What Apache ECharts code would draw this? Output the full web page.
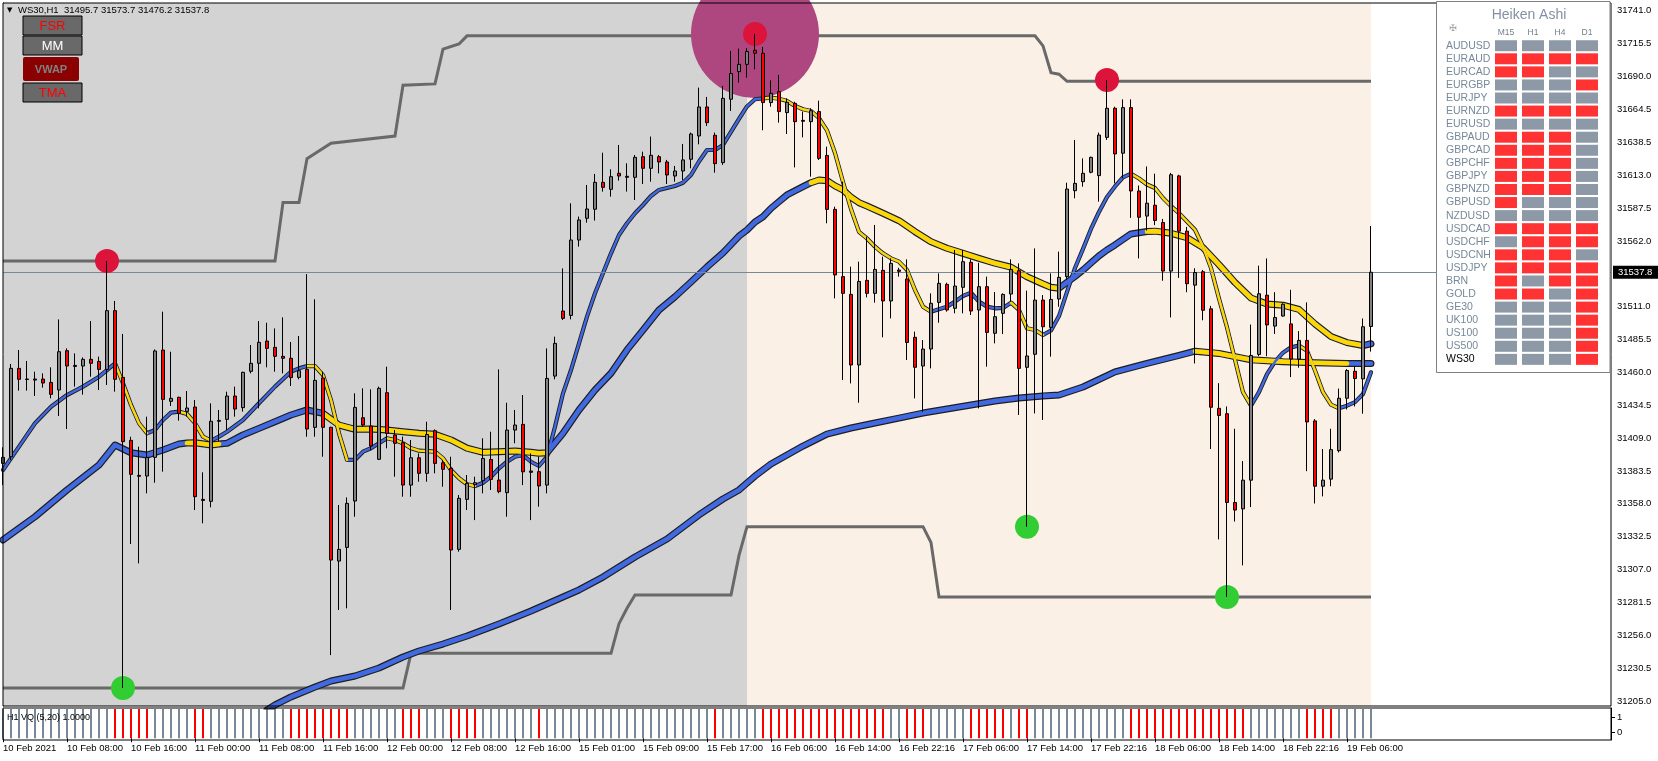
<!DOCTYPE html>
<html><head><meta charset="utf-8">
<script src="https://cdn.jsdelivr.net/npm/echarts@6/dist/echarts.min.js"></script>
<style>html,body{margin:0;padding:0;background:#fff}#c{width:1658px;height:761px}</style>
</head><body><div id="c"></div>
<script>
// ---------- data ----------
const symbolName = 'WS30,H1';
const tickLabels = ['10 Feb 2021','10 Feb 08:00','10 Feb 16:00','11 Feb 00:00','11 Feb 08:00','11 Feb 16:00','12 Feb 00:00','12 Feb 08:00','12 Feb 16:00','15 Feb 01:00','15 Feb 09:00','15 Feb 17:00','16 Feb 06:00','16 Feb 14:00','16 Feb 22:16','17 Feb 06:00','17 Feb 14:00','17 Feb 22:16','18 Feb 06:00','18 Feb 14:00','18 Feb 22:16','19 Feb 06:00'];
const barsPerLabel = 8;
const priceTicks = [31205.0,31230.5,31256.0,31281.5,31307.0,31332.5,31358.0,31383.5,31409.0,31434.5,31460.0,31485.5,31511.0,31562.0,31587.5,31613.0,31638.5,31664.5,31690.0,31715.5,31741.0];
const yMin = 31201.1, yMax = 31746.8;
const xSlots = 201;
const sessionSplit = 93;

const opens = [31389.4,31394.6,31463.2,31454.9,31454.9,31454.9,31452.3,31446.4,31476.9,31465.5,
31465.0,31470.2,31468.6,31462.4,31508.0,31456.2,31407.3,31380.1,31379.6,31394.1,
31477.4,31437.6,31440.7,31429.8,31433.2,31361.5,31360.0,31422.1,31423.6,31441.7,
31432.7,31460.9,31467.1,31484.4,31479.5,31472.5,31471.0,31456.2,31462.4,31417.4,
31455.7,31417.4,31313.6,31324.2,31360.2,31424.9,31418.4,31392.6,31444.3,31411.4,
31405.5,31372.6,31393.8,31381.7,31414.8,31389.9,31385.6,31322.7,31361.5,31372.9,
31376.0,31392.5,31376.5,31366.7,31415.3,31419.7,31383.5,31383.0,31372.6,31457.2,
31507.7,31504.3,31562.8,31579.7,31586.7,31607.6,31602.2,31614.6,31612.3,31611.5,
31627.5,31618.5,31627.5,31623.4,31612.5,31616.4,31625.5,31643.6,31666.1,31644.1,
31622.9,31672.1,31693.5,31699.2,31710.1,31707.8,31669.5,31678.0,31661.7,31668.9,
31655.7,31654.7,31662.5,31628.5,31586.6,31534.4,31520.6,31465.8,31531.5,31521.4,
31539.3,31515.5,31539.5,31532.6,31487.3,31465.0,31478.2,31514.4,31528.4,31509.8,
31526.1,31545.5,31508.5,31526.6,31490.4,31505.9,31520.9,31539.0,31464.0,31474.1,
31516.2,31495.0,31517.0,31534.4,31601.1,31608.1,31615.4,31612.8,31642.5,31665.1,
31630.2,31665.6,31600.9,31581.4,31589.8,31576.4,31538.7,31612.6,31569.7,31527.8,
31538.2,31509.4,31432.2,31428.0,31359.1,31354.1,31376.4,31474.0,31520.0,31496.0,
31503.8,31497.7,31470.4,31484.9,31422.4,31371.7,31377.2,31399.3,31440.0,31460.9,
31455.0,31495.7];
const highs = [31401.9,31466.6,31477.4,31468.9,31460.6,31459.3,31464.0,31501.2,31478.7,31474.8,
31471.7,31499.9,31472.3,31546.5,31515.5,31489.9,31410.1,31402.4,31425.7,31477.9,
31507.2,31476.1,31441.2,31445.6,31438.6,31382.5,31436.0,31430.9,31445.1,31449.0,
31460.6,31481.3,31499.9,31498.6,31494.2,31502.8,31483.6,31488.3,31536.4,31516.8,
31460.6,31417.9,31357.1,31363.0,31443.8,31447.7,31446.9,31449.0,31464.5,31415.3,
31410.2,31407.6,31397.2,31421.8,31415.8,31392.0,31394.6,31364.9,31380.4,31379.1,
31408.9,31414.0,31462.4,31436.5,31430.9,31442.5,31397.2,31394.6,31478.7,31487.8,
31540.8,31591.3,31581.0,31605.5,31614.1,31630.6,31617.7,31636.6,31622.4,31628.8,
31631.4,31643.1,31628.8,31625.0,31620.3,31637.4,31646.2,31681.1,31673.9,31646.2,
31682.4,31709.6,31711.4,31711.7,31722.8,31712.7,31686.8,31691.0,31672.8,31670.2,
31662.5,31665.1,31671.0,31635.3,31588.7,31608.1,31542.1,31546.0,31565.4,31574.5,
31549.9,31548.6,31541.3,31547.8,31491.7,31485.2,31521.4,31536.9,31529.7,31555.1,
31555.1,31547.8,31545.2,31534.4,31522.5,31521.4,31547.8,31544.7,31523.5,31556.3,
31520.1,31536.9,31553.8,31607.3,31640.5,31626.2,31627.5,31646.2,31687.0,31666.3,
31672.0,31672.0,31605.1,31619.9,31614.3,31579.2,31614.9,31613.5,31573.0,31540.9,
31539.6,31511.7,31451.7,31433.6,31416.3,31391.2,31497.2,31542.9,31548.5,31522.3,
31513.6,31524.2,31492.1,31514.4,31423.8,31400.6,31416.3,31447.5,31462.6,31464.8,
31501.9,31573.7];
const lows = [31372.6,31392.0,31445.9,31445.9,31441.7,31448.2,31439.9,31426.2,31416.1,31449.0,
31442.8,31456.7,31446.4,31450.3,31445.1,31215.1,31326.8,31311.8,31366.2,31374.4,
31383.0,31434.0,31422.6,31425.7,31353.2,31342.9,31355.3,31406.3,31415.3,31425.7,
31429.6,31459.3,31432.1,31464.0,31460.6,31459.3,31449.5,31454.7,31410.1,31410.1,
31394.6,31240.6,31275.6,31276.9,31348.0,31417.9,31399.8,31392.0,31401.1,31379.1,
31363.6,31363.6,31375.2,31375.2,31381.7,31371.3,31275.6,31320.9,31353.2,31345.4,
31366.2,31368.8,31366.2,31348.0,31405.0,31372.6,31345.4,31355.8,31366.2,31454.7,
31500.7,31501.2,31557.7,31576.3,31577.9,31600.4,31596.5,31608.9,31600.4,31593.9,
31606.3,31608.1,31614.6,31606.3,31608.1,31609.4,31618.5,31637.1,31651.3,31615.1,
31621.1,31663.0,31685.0,31688.9,31695.3,31648.0,31666.3,31653.9,31645.1,31619.2,
31642.5,31612.0,31624.9,31575.8,31517.5,31454.1,31451.5,31436.5,31518.3,31514.2,
31487.3,31502.0,31534.4,31469.7,31439.9,31429.5,31463.2,31498.6,31507.2,31505.9,
31505.9,31504.6,31432.1,31464.5,31482.6,31489.8,31514.9,31427.0,31340.3,31428.2,
31423.1,31472.3,31511.0,31531.8,31595.2,31604.2,31614.6,31592.6,31640.5,31606.8,
31610.7,31580.0,31548.5,31570.2,31574.4,31531.2,31502.7,31533.4,31522.3,31467.0,
31500.5,31400.6,31330.4,31285.7,31344.3,31310.3,31355.5,31472.6,31472.6,31489.9,
31503.3,31456.4,31463.7,31383.4,31358.3,31363.8,31371.7,31397.9,31431.3,31433.6,
31428.0,31476.2];
const closes = [31394.1,31463.2,31454.7,31454.6,31454.1,31451.8,31443.0,31476.1,31465.0,31464.7,
31470.2,31467.1,31462.4,31508.0,31454.7,31406.3,31380.9,31379.4,31394.1,31476.7,
31439.1,31439.9,31428.3,31432.4,31363.6,31360.7,31422.1,31422.8,31441.7,31431.6,
31460.1,31467.1,31483.4,31478.7,31472.5,31471.0,31456.0,31461.4,31416.1,31453.9,
31417.4,31314.4,31322.7,31358.4,31432.9,31419.2,31402.9,31447.7,31412.7,31405.0,
31372.6,31393.8,31381.7,31411.9,31389.4,31384.8,31322.2,31362.3,31373.9,31374.4,
31393.3,31377.0,31367.5,31415.3,31419.2,31382.9,31382.5,31371.9,31455.4,31482.6,
31502.0,31562.8,31578.4,31586.9,31607.6,31603.7,31612.0,31612.5,31611.5,31627.0,
31618.5,31628.6,31623.4,31613.3,31616.4,31625.0,31645.1,31666.1,31653.9,31622.1,
31672.8,31692.0,31699.2,31709.1,31707.8,31669.5,31676.7,31662.5,31669.7,31654.7,
31655.0,31663.2,31626.2,31586.6,31535.7,31521.4,31465.8,31530.7,31521.4,31540.0,
31515.5,31544.7,31538.5,31483.3,31464.0,31478.2,31513.7,31529.2,31508.5,31527.1,
31546.0,31507.7,31526.6,31491.1,31503.3,31520.6,31540.0,31463.2,31472.8,31516.2,
31495.5,31516.7,31533.8,31602.4,31606.8,31614.6,31627.0,31644.3,31665.1,31629.6,
31665.6,31600.9,31580.5,31591.4,31578.0,31538.7,31613.5,31569.7,31528.9,31537.6,
31508.3,31433.0,31426.6,31359.1,31353.2,31376.4,31473.2,31521.1,31496.9,31502.7,
31513.0,31470.4,31484.9,31421.6,31371.7,31376.4,31400.1,31440.0,31461.5,31455.3,
31495.5,31537.8];

const maFast = [[0,31384.3],[2,31402.4],[4,31420.6],[6,31433.4],[8,31442.5],[10,31449.0],[12,31456.7],[13,31461.9],[14,31467.1],[15,31451.6],[16,31434.8],[17,31420.6],[18,31412.8],[19,31415.3],[20,31423.1],[21,31428.8],[22,31429.6],[23,31427.8],[24,31420.6],[25,31410.2],[26,31407.1],[27,31410.2],[28,31414.0],[30,31423.1],[32,31436.1],[34,31449.0],[36,31460.6],[37,31463.2],[38,31465.0],[39,31465.0],[40,31458.0],[41,31438.6],[42,31412.8],[43,31392.1],[44,31392.1],[45,31398.5],[46,31401.2],[47,31405.0],[48,31408.9],[49,31407.6],[50,31405.0],[51,31401.2],[52,31399.3],[54,31398.5],[55,31393.4],[56,31384.3],[57,31377.9],[58,31373.2],[59,31371.9],[60,31374.4],[61,31379.1],[62,31385.6],[63,31390.7],[64,31394.6],[65,31395.9],[66,31390.7],[67,31387.4],[68,31394.6],[69,31417.9],[70,31443.8],[71,31461.9],[72,31482.6],[73,31503.3],[74,31521.5],[75,31537.0],[76,31552.5],[77,31566.7],[78,31575.8],[79,31583.6],[80,31590.0],[81,31597.0],[82,31601.7],[84,31604.8],[85,31607.3],[86,31613.3],[87,31623.8],[88,31632.7],[89,31632.7],[90,31636.6],[91,31646.7],[92,31656.8],[93,31666.5],[94,31672.1],[95,31672.8],[96,31673.3],[97,31672.5],[98,31670.8],[99,31666.9],[100,31664.3],[101,31663.0],[102,31657.5],[103,31647.9],[104,31630.4],[105,31607.9],[106,31586.9],[107,31569.1],[108,31564.0],[109,31557.6],[110,31552.5],[111,31548.6],[112,31546.0],[113,31539.6],[114,31524.0],[115,31511.1],[116,31507.2],[117,31509.1],[118,31511.1],[119,31515.0],[120,31519.4],[121,31521.9],[122,31515.0],[123,31511.1],[124,31509.8],[125,31510.1],[126,31514.2],[127,31508.5],[128,31494.3],[129,31493.0],[130,31489.1],[131,31492.6],[132,31503.8],[133,31522.5],[134,31541.1],[135,31555.9],[136,31571.4],[137,31584.6],[138,31596.2],[139,31604.4],[140,31611.5],[141,31614.3],[142,31610.6],[143,31605.9],[144,31603.2],[145,31595.4],[146,31589.2],[147,31583.7],[148,31577.2],[149,31570.8],[150,31557.7],[151,31541.0],[152,31517.3],[153,31495.0],[154,31469.9],[155,31444.7],[156,31434.2],[157,31444.7],[158,31458.7],[159,31468.4],[160,31475.4],[161,31479.5],[162,31480.9],[163,31476.8],[164,31461.5],[165,31444.7],[166,31435.0],[167,31432.2],[168,31434.2],[169,31437.0],[170,31443.3],[171,31460.1]];
const fastYellow = [[14,18],[22,26],[38,43],[48,59],[95,116],[126,130],[141,156],[162,167]];

const maMid = [[0,31330.0],[4,31348.0],[8,31368.8],[12,31388.2],[14,31403.7],[16,31397.7],[18,31395.9],[20,31399.8],[22,31404.5],[23,31405.2],[24,31405.5],[26,31403.7],[27,31404.5],[28,31405.0],[30,31411.5],[32,31416.6],[34,31421.8],[36,31427.0],[38,31430.9],[40,31428.3],[42,31419.2],[44,31415.9],[46,31416.1],[48,31415.4],[50,31414.0],[52,31412.8],[54,31412.0],[56,31407.6],[58,31401.2],[60,31398.0],[62,31398.5],[64,31399.1],[66,31398.0],[67,31397.3],[68,31397.7],[70,31412.8],[72,31430.9],[74,31446.4],[76,31459.4],[78,31477.5],[80,31492.9],[82,31508.5],[84,31518.8],[86,31530.2],[88,31541.9],[90,31552.8],[92,31565.9],[93,31570.6],[94,31576.8],[95,31580.9],[96,31587.4],[97,31592.6],[98,31597.8],[100,31604.2],[101,31607.3],[102,31609.4],[103,31608.9],[104,31604.8],[105,31601.7],[106,31596.0],[107,31591.8],[108,31589.2],[110,31583.6],[112,31577.8],[114,31569.3],[116,31561.5],[118,31556.4],[120,31552.5],[122,31548.6],[124,31544.8],[126,31541.7],[128,31534.3],[130,31528.7],[131,31526.1],[132,31525.4],[133,31530.0],[134,31534.5],[135,31539.5],[136,31545.0],[137,31550.5],[138,31555.1],[139,31559.0],[141,31567.5],[143,31569.4],[144,31569.7],[146,31568.0],[148,31564.6],[150,31556.9],[152,31543.7],[154,31529.8],[156,31517.8],[158,31513.1],[160,31512.2],[162,31508.9],[164,31497.6],[166,31487.9],[168,31483.2],[170,31480.9],[171,31482.3]];
const midYellow = [[23,27],[40,68],[101,132],[143,170]];

const maSlow = [[33,31198.0],[34,31201.9],[36,31208.1],[39,31215.8],[41,31220.5],[44,31224.4],[47,31230.6],[50,31239.1],[52,31243.8],[55,31249.2],[58,31255.4],[62,31264.8],[66,31274.8],[70,31285.7],[72,31291.2],[75,31301.2],[79,31316.8],[83,31330.7],[87,31349.4],[90,31361.8],[92,31368.8],[94,31379.6],[96,31389.0],[100,31402.9],[103,31412.2],[106,31416.9],[109,31420.8],[112,31424.6],[115,31428.5],[118,31431.6],[121,31434.8],[124,31437.9],[127,31440.2],[130,31441.8],[132,31442.5],[135,31448.7],[139,31460.4],[143,31467.0],[147,31473.2],[149,31476.5],[152,31474.8],[156,31469.8],[160,31468.4],[164,31467.6],[168,31467.0],[171,31467.0]];
const slowYellow = [[149,168]];

const upperLevels = [[0,31546.5],[34,31546.5],[35,31592.0],[37,31592.0],[38,31626.0],[39,31630.0],[41,31638.0],[49,31643.5],[50,31683.0],[54,31684.0],[55,31711.0],[57,31715.0],[58,31721.3],[129,31721.3],[130,31713.5],[131,31692.7],[132,31691.5],[133,31686.0],[171,31686.0]];
const lowerLevels = [[0,31215.1],[50,31215.1],[51,31242.0],[76,31242.0],[77,31265.0],[78,31277.0],[79,31287.3],[91,31287.3],[92,31318.0],[93,31340.3],[115,31340.3],[116,31328.0],[117,31285.7],[171,31285.7]];

const swingHighs = [13, 94, 138];
const swingLows = [15, 128, 153];
const bigCircleBar = 94;

const vqRed = [[14,18],[24,25],[36,43],[50,52],[56,59],[67,67],[89,89],[95,110],[113,115],[121,125],[127,128],[141,155],[163,166]];

const haFrames = ['M15','H1','H4','D1'];
const haSymbols = ['AUDUSD','EURAUD','EURCAD','EURGBP','EURJPY','EURNZD','EURUSD','GBPAUD','GBPCAD','GBPCHF','GBPJPY','GBPNZD','GBPUSD','NZDUSD','USDCAD','USDCHF','USDCNH','USDJPY','BRN','GOLD','GE30','UK100','US100','US500','WS30'];
const haState = ['GGGG','RRRR','RRGG','GGGR','GGGG','RRRR','GGGG','RRRG','RRRG','RRRG','RRRG','RRRG','RGGG','GGGG','RRRR','GRRR','RRRG','RRRR','RGRR','RRGR','GGGR','GGGR','GGGR','GGGR','GGGR'];

// ---------- chart ----------
const FONT = '"Liberation Sans", Arial, sans-serif';
const N = opens.length;
const last = N - 1;
const candleData = opens.map((o, i) => [i, o, closes[i], lows[i], highs[i]]);
const tickBars = tickLabels.map((_, k) => k * barsPerLabel);

const series = [];
series.push({
  type: 'candlestick', xAxisIndex: 0, yAxisIndex: 0, z: 7, silent: true,
  dimensions: ['bar', 'open', 'close', 'lowest', 'highest'],
  encode: { x: 'bar', y: ['open', 'close', 'lowest', 'highest'] },
  data: candleData, barWidth: 4,
  itemStyle: { color: '#808080', color0: '#ff0000', borderColor: '#000', borderColor0: '#000', borderWidth: 1 },
  markArea: {
    silent: true, z: 1,
    data: [
      [{ xAxis: 0, itemStyle: { color: '#d3d3d3' } }, { xAxis: sessionSplit }],
      [{ xAxis: sessionSplit, itemStyle: { color: '#faf0e6' } }, { xAxis: last }]
    ]
  },
  markLine: {
    silent: true, z: 6, symbol: ['none', 'none'],
    lineStyle: { color: '#778899', width: 1, type: 'solid' },
    label: { show: true, position: 'end', distance: 2, formatter: closes[last].toFixed(1),
      backgroundColor: '#000', color: '#fff', fontSize: 9.5, fontFamily: FONT, padding: [2, 6, 1, 5] },
    data: [{ yAxis: closes[last] }]
  }
});
[upperLevels, lowerLevels].forEach(lv => series.push({
  type: 'line', data: lv, symbol: 'none', z: 2, silent: true,
  lineStyle: { color: '#696969', width: 3, join: 'miter' }
}));
series.push({
  type: 'scatter', data: [[bigCircleBar, highs[bigCircleBar]]], symbolSize: 128, z: 3, silent: true,
  itemStyle: { color: '#ae4680', opacity: 1 }
});
function addMA(pts, yellow, core, outline) {
  const ls = { join: 'round', cap: 'round' };
  series.push({ type: 'line', data: pts, symbol: 'none', z: 4, silent: true, lineStyle: Object.assign({ color: '#1e1e1e', width: outline }, ls) });
  series.push({ type: 'line', data: pts, symbol: 'none', z: 5, silent: true, lineStyle: Object.assign({ color: '#4169e1', width: core }, ls) });
  yellow.forEach(([s, e]) => series.push({
    type: 'line', data: pts.filter(p => p[0] >= s && p[0] <= e), symbol: 'none', z: 5, silent: true,
    lineStyle: Object.assign({ color: '#ffd700', width: core }, ls)
  }));
}
addMA(maSlow, slowYellow, 4.6, 7);
addMA(maMid, midYellow, 4.6, 7);
addMA(maFast, fastYellow, 2.4, 4.2);
series.push({ type: 'scatter', data: swingHighs.map(i => [i, highs[i]]), symbolSize: 24, z: 6, silent: true, itemStyle: { color: '#dc143c', opacity: 1 } });
series.push({ type: 'scatter', data: swingLows.map(i => [i, lows[i]]), symbolSize: 24, z: 6, silent: true, itemStyle: { color: '#32cd32', opacity: 1 } });

const isRed = i => vqRed.some(([s, e]) => i >= s && i <= e);
series.push({
  type: 'bar', xAxisIndex: 1, yAxisIndex: 1, barWidth: 2, silent: true,
  data: opens.map((_, i) => ({ value: [i, 1], itemStyle: { color: isRed(i) ? '#ff0000' : '#778899' } }))
});
const haData = [];
haState.forEach((s, r) => { for (let c = 0; c < haFrames.length; c++) haData.push({ value: [c, r], itemStyle: { color: s[c] === 'R' ? '#ff0000' : '#708090' } }); });
series.push({ type: 'scatter', xAxisIndex: 2, yAxisIndex: 3, data: haData, symbol: 'rect', symbolSize: [22, 11], z: 60, silent: true });

const header = symbolName + '  ' + [opens[last], highs[last], lows[last], closes[last]].map(v => v.toFixed(1)).join(' ');
function button(x, y, w, h, fill, stroke, label, color, font, r) {
  return [
    { type: 'rect', shape: { x, y, width: w, height: h, r: r || 0 }, style: { fill, stroke: stroke || null, lineWidth: 1 }, z: 100 },
    { type: 'text', x: x + w / 2, y: y + h / 2 + 0.5, style: { text: label, fill: color, font, align: 'center', verticalAlign: 'middle' }, z: 101 }
  ];
}
const graphic = [
  { type: 'text', x: 7, y: 7, style: { text: '\u25BC', font: '7px "DejaVu Sans"', fill: '#000' }, z: 100 },
  { type: 'text', x: 18, y: 5.5, style: { text: header, font: '9.5px ' + FONT, fill: '#000' }, z: 100 },
  ...button(23, 16, 59, 19, '#696969', '#000', 'FSR', '#ff0000', '13px ' + FONT),
  ...button(23, 36, 59, 19, '#696969', '#000', 'MM', '#ffffff', '13px ' + FONT),
  ...button(23, 57, 56, 24, '#8b0000', null, 'VWAP', '#808080', 'bold 11px ' + FONT, 2),
  ...button(23, 83, 59, 19, '#696969', '#000', 'TMA', '#ff0000', '13px ' + FONT),
  { type: 'rect', shape: { x: 1436.5, y: 1.5, width: 173.5, height: 371 }, style: { fill: '#fff', stroke: '#808080', lineWidth: 1 }, z: 50 },
  { type: 'text', x: 1529, y: 15, style: { text: 'Heiken Ashi', font: '14px ' + FONT, fill: '#8390a4', align: 'center', verticalAlign: 'middle' }, z: 51 },
  { type: 'text', x: 1453, y: 29, style: { text: '\u2720', font: '9px "DejaVu Sans"', fill: '#a0a0a0', align: 'center', verticalAlign: 'middle' }, z: 51 },
  { type: 'text', x: 7, y: 717.5, style: { text: 'H1 VQ (5,20) 1.0000', font: '9px ' + FONT, fill: '#000', verticalAlign: 'middle' }, z: 100 }
];

const option = {
  animation: false,
  backgroundColor: '#ffffff',
  textStyle: { fontFamily: FONT },
  grid: [
    { left: 3, top: 3, width: 1608, height: 703, show: true, borderColor: '#000', borderWidth: 1, backgroundColor: 'transparent', z: 10 },
    { left: 3, top: 708, width: 1608, height: 32, show: true, borderColor: '#000', borderWidth: 1, backgroundColor: 'transparent', z: 10 },
    { left: 1492.5, top: 39.2, width: 108, height: 326.7 }
  ],
  xAxis: [
    { gridIndex: 0, type: 'value', min: 0, max: xSlots, show: false },
    { gridIndex: 1, type: 'value', min: 0, max: xSlots, splitLine: { show: false }, axisLine: { show: false },
      axisTick: { show: true, customValues: tickBars, length: 4, lineStyle: { color: '#000' } },
      axisLabel: { customValues: tickBars, formatter: v => tickLabels[Math.round(v / barsPerLabel)], align: 'left', margin: 3, fontSize: 9.5, fontFamily: FONT, color: '#000' } },
    { gridIndex: 2, type: 'category', position: 'top', data: haFrames, z: 70,
      axisLine: { show: false }, axisTick: { show: false }, splitLine: { show: false },
      axisLabel: { interval: 0, fontSize: 8.5, fontFamily: FONT, color: '#708090', margin: 2 } }
  ],
  yAxis: [
    { gridIndex: 0, type: 'value', position: 'right', min: yMin, max: yMax, splitLine: { show: false },
      axisLine: { show: true, lineStyle: { color: '#000' } },
      axisTick: { show: true, customValues: priceTicks, length: 4, lineStyle: { color: '#000' } },
      axisLabel: { customValues: priceTicks, formatter: v => v.toFixed(1), fontSize: 9.5, fontFamily: FONT, color: '#000', margin: 6 } },
    { gridIndex: 1, type: 'value', min: -0.06, max: 1.03, show: false },
    { gridIndex: 1, type: 'value', position: 'right', min: -0.507, max: 1.655, splitLine: { show: false },
      axisLine: { show: true, lineStyle: { color: '#000' } },
      axisTick: { show: true, customValues: [0, 1], length: 4, lineStyle: { color: '#000' } },
      axisLabel: { customValues: [0, 1], fontSize: 9.5, fontFamily: FONT, color: '#000', margin: 6 } },
    { gridIndex: 2, type: 'category', data: haSymbols, inverse: true, z: 70,
      axisLine: { show: false }, axisTick: { show: false }, splitLine: { show: false },
      axisLabel: { interval: 0, align: 'left', margin: 46.5, fontSize: 10.5, fontFamily: FONT,
        color: (v) => v === 'WS30' ? '#000' : '#778899' } }
  ],
  graphic,
  series
};
const chart = echarts.init(document.getElementById('c'));
chart.setOption(option);
</script>
</body></html>
